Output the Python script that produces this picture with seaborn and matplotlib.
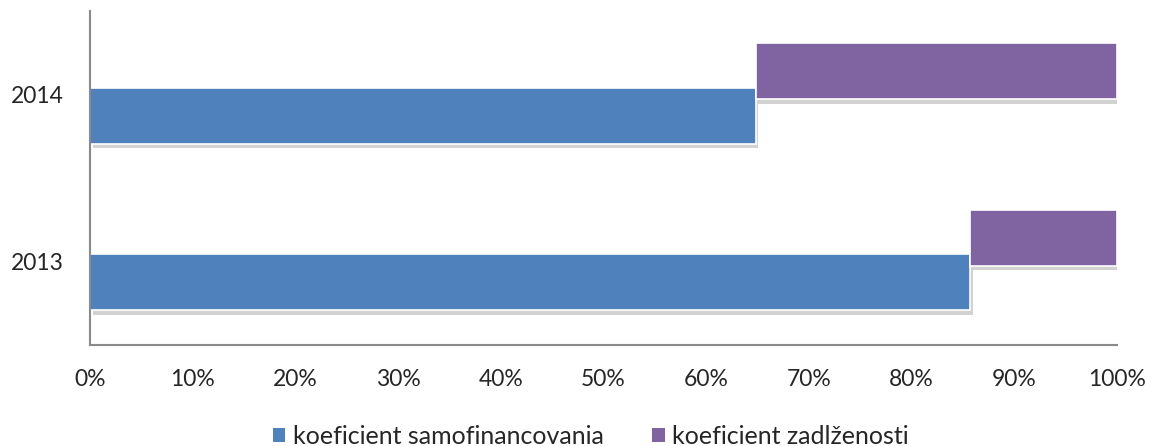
import numpy as np
import pandas as pd
import matplotlib
matplotlib.use("Agg")
import matplotlib.pyplot as plt
import matplotlib.patheffects as pe
from matplotlib.patches import Patch
import seaborn as sns

# data
years = [2013, 2014]
samofinancovania = [85.7, 64.8]          # %
zadlzenosti = [14.3, 35.2]               # %
series_names = ["koeficient samofinancovania", "koeficient zadlženosti"]
x_ticks = [0, 10, 20, 30, 40, 50, 60, 70, 80, 90, 100]
x_labels = [f"{t}%" for t in x_ticks]

blue = "#4F81BD"
purple = "#8064A2"

sns.set_theme(style="white")
plt.rcParams["font.family"] = ["Lato", "DejaVu Sans"]

fig = plt.figure(figsize=(11.54, 4.46), dpi=100)
ax = fig.add_axes([0.078, 0.2265, 0.890, 0.748])

shadow = [pe.SimplePatchShadow(offset=(2, -3), shadow_rgbFace="#808080", alpha=0.35),
          pe.Normal()]

df = pd.DataFrame({
    "year": years,
    "samo": samofinancovania,
    "zadl": zadlzenosti,
})
df["y_blue"] = df["year"] - 0.125
df["y_purple"] = df["year"] + 0.14

sns.barplot(data=df, x="samo", y="y_blue", orient="y", native_scale=True,
            color=blue, width=0.335, saturation=1, edgecolor="white",
            linewidth=1.2, ax=ax)
sns.barplot(data=df, x="zadl", y="y_purple", orient="y", native_scale=True,
            color=purple, width=0.335, saturation=1, edgecolor="white",
            linewidth=1.2, left=df["samo"].values, ax=ax)

for p in ax.patches:
    p.set_path_effects(shadow)

ax.set_xlim(0, 100)
ax.set_ylim(2012.5, 2014.5)
ax.set_xticks(x_ticks)
ax.set_xticklabels(x_labels)
ax.set_yticks(years)
ax.set_yticklabels([str(y) for y in years])
ax.set_xlabel("")
ax.set_ylabel("")
ax.tick_params(axis="x", length=0, pad=17, labelsize=16.5)
ax.tick_params(axis="y", length=0, pad=19, labelsize=16.5)

for s in ["top", "right"]:
    ax.spines[s].set_visible(False)
for s in ["left", "bottom"]:
    ax.spines[s].set_color("#8a8a8a")
    ax.spines[s].set_linewidth(1.5)

handles = [Patch(facecolor=blue, edgecolor="none"),
           Patch(facecolor=purple, edgecolor="none")]
fig.legend(handles, series_names, loc="lower center", ncol=2,
           bbox_to_anchor=(0.512, -0.055), frameon=False, fontsize=18,
           handlelength=0.5, handleheight=0.5, handletextpad=0.3,
           columnspacing=1.95)

fig.savefig("out.png", dpi=100)
